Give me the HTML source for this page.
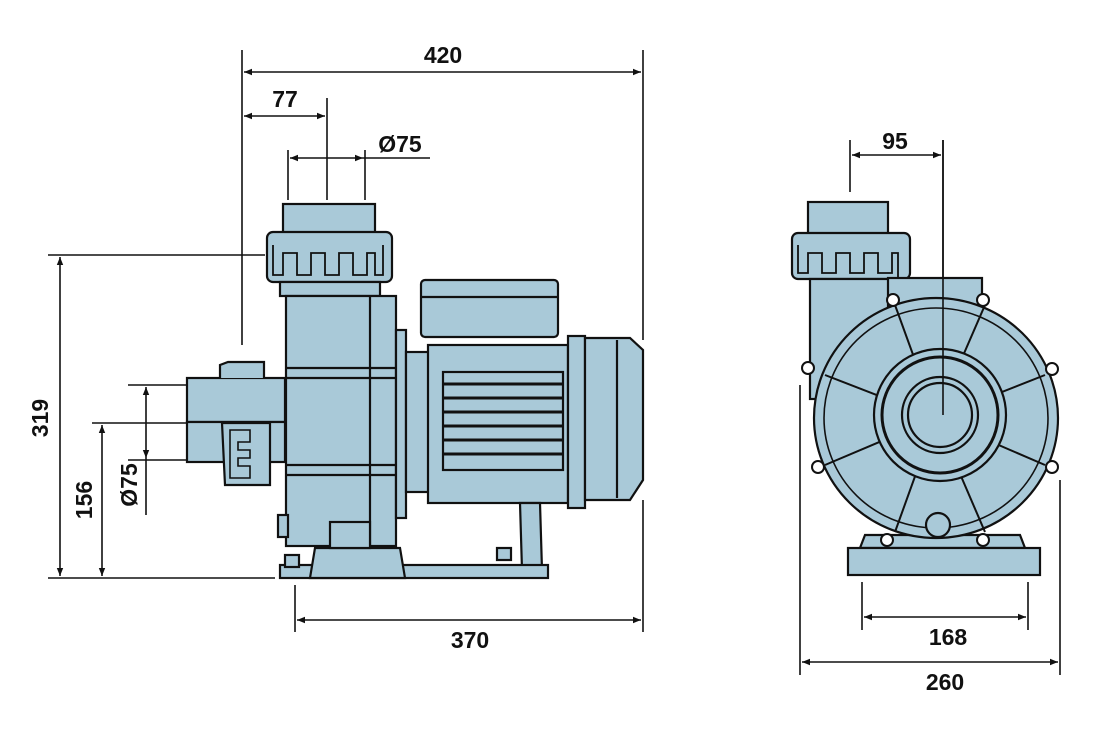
<!DOCTYPE html>
<html><head><meta charset="utf-8"><style>
html,body{margin:0;padding:0;background:#fff;width:1114px;height:729px;overflow:hidden}
text{font-family:"Liberation Sans",sans-serif;font-weight:bold;font-size:23px;fill:#111}
</style></head><body>
<svg width="1114" height="729" viewBox="0 0 1114 729" xmlns="http://www.w3.org/2000/svg">
<defs>
<marker id="a" viewBox="0 0 10 10" refX="10" refY="5" markerWidth="10" markerHeight="8" orient="auto-start-reverse" markerUnits="userSpaceOnUse"><path d="M0,1 L10,5 L0,9 z" fill="#111"/></marker>
</defs>
<g stroke="#111" stroke-width="1.6" fill="none">
<!-- dimension lines -->
<line x1="242" y1="50" x2="242" y2="345"/><line x1="643" y1="50" x2="643" y2="340"/>
<line x1="244" y1="72" x2="641" y2="72" marker-start="url(#a)" marker-end="url(#a)"/>
<line x1="327" y1="98" x2="327" y2="200"/>
<line x1="244" y1="116" x2="325" y2="116" marker-start="url(#a)" marker-end="url(#a)"/>
<line x1="288" y1="150" x2="288" y2="200"/><line x1="365" y1="150" x2="365" y2="200"/>
<line x1="290" y1="158" x2="363" y2="158" marker-start="url(#a)" marker-end="url(#a)"/>
<line x1="363" y1="158" x2="430" y2="158"/>
<line x1="48" y1="255" x2="265" y2="255"/><line x1="48" y1="578" x2="275" y2="578"/>
<line x1="60" y1="257" x2="60" y2="576" marker-start="url(#a)" marker-end="url(#a)"/>
<line x1="92" y1="423" x2="187" y2="423"/>
<line x1="102" y1="425" x2="102" y2="576" marker-start="url(#a)" marker-end="url(#a)"/>
<line x1="128" y1="385" x2="187" y2="385"/><line x1="128" y1="460" x2="187" y2="460"/>
<line x1="146" y1="387" x2="146" y2="458" marker-start="url(#a)" marker-end="url(#a)"/>
<line x1="146" y1="458" x2="146" y2="515"/>
<line x1="295" y1="585" x2="295" y2="632"/><line x1="643" y1="500" x2="643" y2="632"/>
<line x1="297" y1="620" x2="641" y2="620" marker-start="url(#a)" marker-end="url(#a)"/>
<line x1="850" y1="140" x2="850" y2="192"/><line x1="943" y1="140" x2="943" y2="415"/>
<line x1="852" y1="155" x2="941" y2="155" marker-start="url(#a)" marker-end="url(#a)"/>
<line x1="862" y1="582" x2="862" y2="630"/><line x1="1028" y1="582" x2="1028" y2="630"/>
<line x1="864" y1="617" x2="1026" y2="617" marker-start="url(#a)" marker-end="url(#a)"/>
<line x1="800" y1="385" x2="800" y2="675"/><line x1="1060" y1="480" x2="1060" y2="675"/>
<line x1="802" y1="662" x2="1058" y2="662" marker-start="url(#a)" marker-end="url(#a)"/>
</g>
<text x="443" y="63" text-anchor="middle">420</text>
<text x="285" y="107" text-anchor="middle">77</text>
<text x="400" y="152" text-anchor="middle">Ø75</text>
<text x="895" y="149" text-anchor="middle">95</text>
<text x="470" y="648" text-anchor="middle">370</text>
<text x="948" y="645" text-anchor="middle">168</text>
<text x="945" y="690" text-anchor="middle">260</text>
<text transform="translate(48,418) rotate(-90)" text-anchor="middle">319</text>
<text transform="translate(92,500) rotate(-90)" text-anchor="middle">156</text>
<text transform="translate(137,485) rotate(-90)" text-anchor="middle">Ø75</text>

<g fill="#a9c9d8" stroke="#111" stroke-width="2.2">
<!-- LEFT VIEW -->
<rect x="283" y="204" width="92" height="30"/>
<rect x="267" y="232" width="125" height="50" rx="6"/>
<path d="M273,245 v30 h10 v-22 h14 v22 h14 v-22 h14 v22 h14 v-22 h14 v22 h14 v-22 h8 v22 h8 v-30" fill="none" stroke-width="1.8"/>
<rect x="280" y="282" width="100" height="14"/>
<rect x="286" y="296" width="110" height="250"/>
<line x1="370" y1="296" x2="370" y2="546"/>
<line x1="286" y1="368" x2="396" y2="368"/><line x1="286" y1="378" x2="396" y2="378"/>
<line x1="286" y1="465" x2="396" y2="465"/><line x1="286" y1="475" x2="396" y2="475"/>
<rect x="396" y="330" width="10" height="188"/>
<rect x="406" y="352" width="23" height="140"/>
<rect x="428" y="345" width="140" height="158"/>
<rect x="443" y="372" width="120" height="98"/>
<g stroke-width="3"><line x1="443" y1="384" x2="563" y2="384"/><line x1="443" y1="398" x2="563" y2="398"/><line x1="443" y1="412" x2="563" y2="412"/><line x1="443" y1="426" x2="563" y2="426"/><line x1="443" y1="440" x2="563" y2="440"/><line x1="443" y1="454" x2="563" y2="454"/></g>
<rect x="421" y="280" width="137" height="57" rx="4"/>
<line x1="421" y1="297" x2="558" y2="297"/>
<rect x="568" y="336" width="17" height="172"/>
<path d="M585,338 H630 L643,350 V480 L630,500 H585 Z"/>
<line x1="617" y1="340" x2="617" y2="498"/>
<path d="M520,503 L522,570 H542 L540,503 Z"/>
<rect x="280" y="565" width="268" height="13"/>
<path d="M310,578 L315,548 H400 L405,578 Z"/>
<rect x="330" y="522" width="40" height="26"/>
<rect x="187" y="378" width="98" height="44"/>
<rect x="187" y="422" width="98" height="40"/>
<path d="M222,423 H270 V485 H225 Z"/>
<path d="M230,430 v48 h20 v-12 h-12 v-8 h12 v-8 h-12 v-8 h12 v-12 z" fill="none" stroke-width="1.6"/>
<path d="M220,378 V365 L228,362 H264 V378" />
<rect x="278" y="515" width="10" height="22"/>
<rect x="285" y="555" width="14" height="12"/>
<rect x="497" y="548" width="14" height="12"/>
<!-- RIGHT VIEW -->
<rect x="808" y="202" width="80" height="33"/>
<rect x="792" y="233" width="118" height="46" rx="6"/>
<path d="M798,245 v28 h10 v-20 h14 v20 h14 v-20 h14 v20 h14 v-20 h14 v20 h14 v-20 h6 v28" fill="none" stroke-width="1.8"/>
<rect x="810" y="279" width="80" height="120"/>
<rect x="888" y="278" width="94" height="40"/>
<path d="M865,535 L860,548 H1025 L1020,535 Z"/>
<rect x="848" y="548" width="192" height="27"/>
<ellipse cx="936" cy="418" rx="122" ry="120"/>
<ellipse cx="936" cy="418" rx="112" ry="110" fill="none" stroke-width="1.6"/>
<g stroke-width="2"><line x1="936" y1="418" x2="895" y2="305"/><line x1="936" y1="418" x2="985" y2="305"/>
<line x1="936" y1="418" x2="1045" y2="375"/><line x1="936" y1="418" x2="1045" y2="465"/>
<line x1="936" y1="418" x2="985" y2="532"/><line x1="936" y1="418" x2="895" y2="532"/>
<line x1="936" y1="418" x2="825" y2="465"/><line x1="936" y1="418" x2="825" y2="375"/></g>
<circle cx="940" cy="415" r="66"/>
<circle cx="940" cy="415" r="58" fill="none" stroke-width="3"/>
<circle cx="940" cy="415" r="38"/>
<circle cx="940" cy="415" r="32" fill="none"/>
<circle cx="938" cy="525" r="12"/>
<g fill="#fff" stroke-width="2"><circle cx="893" cy="300" r="6"/><circle cx="983" cy="300" r="6"/><circle cx="808" cy="368" r="6"/><circle cx="1052" cy="369" r="6"/><circle cx="818" cy="467" r="6"/><circle cx="1052" cy="467" r="6"/><circle cx="887" cy="540" r="6"/><circle cx="983" cy="540" r="6"/></g>
</g>
<line x1="943" y1="140" x2="943" y2="415" stroke="#111" stroke-width="1.6"/>
</svg>
</body></html>
